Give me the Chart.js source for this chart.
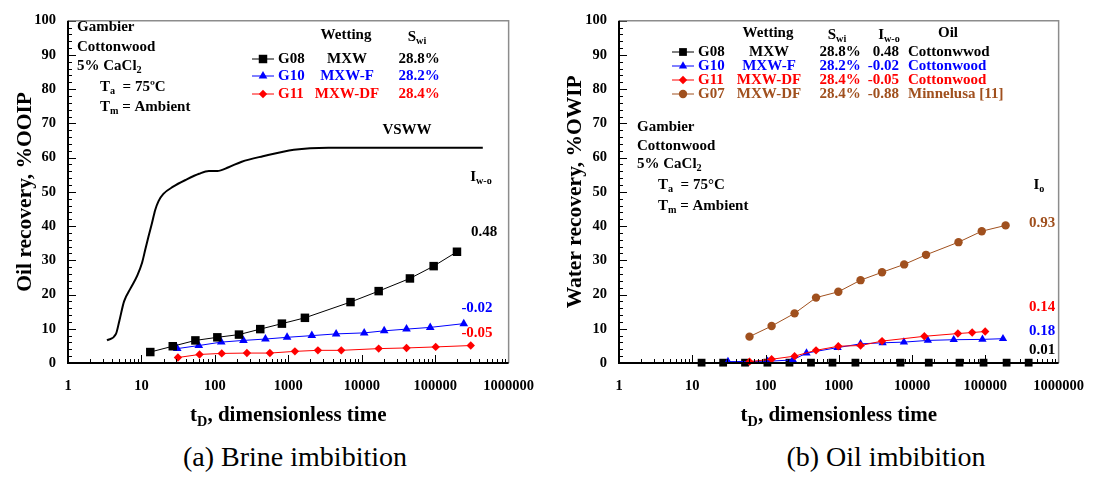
<!DOCTYPE html>
<html>
<head>
<meta charset="utf-8">
<script src="https://cdn.jsdelivr.net/npm/chart.js@4.4.0/dist/chart.umd.min.js"></script>
<style>
  body { margin: 0; background: #fff; width: 1099px; height: 481px; position: relative; overflow: hidden; font-family: 'Liberation Serif', 'Times New Roman', serif; }
  canvas { position: absolute; top: 0; }
  #brine { left: 0; }
  #oil { left: 550px; }
  .cap { position: absolute; top: 441px; font-size: 28px; line-height: 32px; white-space: nowrap; transform: translateX(-50%); }
</style>
</head>
<body>
<canvas id="brine" width="549" height="440"></canvas>
<canvas id="oil" width="549" height="440"></canvas>
<div class="cap" style="left:295px">(a) Brine imbibition</div>
<div class="cap" style="left:886px">(b) Oil imbibition</div>
<script>
// (a) brine imbibition - dimensionless time / oil recovery %OOIP
const vswwT = [3.4, 4.5, 5.0, 5.8, 7.1, 8.8, 10.2, 11.3, 12.5, 13.9, 15.4, 17.1, 19.9, 27, 41, 61, 83, 108, 154, 232, 450, 1190, 3500, 445000];
const vswwRec = [6.6, 8.5, 12.3, 18, 21.8, 25.6, 29.3, 33.2, 37, 40.8, 44.7, 47.3, 49.4, 51.5, 53.6, 55.3, 56.1, 56.1, 57.2, 58.8, 60.4, 62.3, 62.9, 62.9];
const g08T = [13.2, 26.7, 54.3, 108, 213, 415, 818, 1683, 7030, 17000, 45300, 95300, 198000];
const g08Rec = [3.2, 4.9, 6.6, 7.5, 8.3, 9.9, 11.5, 13.2, 17.8, 21.0, 24.7, 28.3, 32.5];
const g10T = [30.7, 60.4, 122, 245, 488, 962, 2090, 4480, 10800, 20200, 40700, 85600, 245000];
const g10Rec = [4.2, 5.1, 6.1, 6.6, 7.0, 7.5, 8.0, 8.5, 8.8, 9.4, 9.9, 10.4, 11.5];
const g11T = [31.4, 61.8, 124, 273, 561, 1230, 2530, 5260, 17000, 40700, 101600, 305000];
const g11Rec = [1.6, 2.5, 2.8, 2.9, 2.9, 3.4, 3.7, 3.7, 4.2, 4.4, 4.7, 5.1];

// (b) oil imbibition - dimensionless time / water recovery %OWIP
const g08OilT = [13.4, 26.4, 52.5, 106, 212, 417, 819, 1685, 6950, 16900, 44400, 94400, 195000, 390000];
const g08OilRec = [0.1, 0.1, 0.1, 0.1, 0.1, 0.1, 0.1, 0.1, 0.1, 0.1, 0.1, 0.1, 0.1, 0.1];
const g10OilT = [30.7, 107, 236, 362, 962, 1980, 3960, 7730, 16400, 37000, 91200, 174000];
const g10OilRec = [0.4, 0.5, 0.9, 2.9, 4.5, 5.6, 5.9, 6.1, 6.6, 6.8, 6.9, 7.1];
const g11OilT = [60.4, 121, 249, 489, 985, 1980, 3890, 14700, 42200, 66100, 99500];
const g11OilRec = [0.4, 1.1, 2.0, 3.7, 4.9, 5.1, 6.4, 7.8, 8.6, 8.9, 9.2];
const g07OilT = [60.4, 121, 249, 489, 985, 1980, 3890, 7800, 15500, 43000, 89300, 189000];
const g07OilRec = [7.7, 10.8, 14.5, 19.1, 20.8, 24.2, 26.5, 28.8, 31.6, 35.3, 38.5, 40.2];

// legend tables
const brineIds = ['G08', 'G10', 'G11'];
const brineWetting = ['MXW', 'MXW-F', 'MXW-DF'];
const brineSwi = ['28.8%', '28.2%', '28.4%'];
const brineIwo = ['0.48', '-0.02', '-0.05'];
const oilIds = ['G08', 'G10', 'G11', 'G07'];
const oilWetting = ['MXW', 'MXW-F', 'MXW-DF', 'MXW-DF'];
const oilSwi = ['28.8%', '28.2%', '28.4%', '28.4%'];
const oilIwo = ['0.48', '-0.02', '-0.05', '-0.88'];
const oilNames = ['Cottonwwod', 'Cottonwood', 'Cottonwood', 'Minnelusa [11]'];
const oilIo = ['0.01', '0.18', '0.14', '0.93'];

const colors = { G08: '#000000', G10: '#0000ff', G11: '#ff0000', G07: '#a0501e' };
const SERIF = "'Liberation Serif', 'Times New Roman', serif";
const font = (size, bold = true) => (bold ? 'bold ' : '') + size + 'px ' + SERIF;
const TXT = 15;

// text made of parts, a part with a second item is a subscript
function rich(ctx, parts, x, y, size, color, align = 'left') {
  ctx.save();
  ctx.fillStyle = color;
  ctx.textBaseline = 'middle';
  ctx.textAlign = 'left';
  const widths = parts.map(p => { ctx.font = font(p[1] ? size * 0.68 : size); return ctx.measureText(p[0]).width; });
  const total = widths.reduce((a, b) => a + b, 0);
  let cx = align === 'center' ? x - total / 2 : align === 'right' ? x - total : x;
  parts.forEach((p, i) => {
    ctx.font = font(p[1] ? size * 0.68 : size);
    ctx.fillText(p[0], cx, p[1] ? y + size * 0.3 : y);
    cx += widths[i];
  });
  ctx.restore();
}

function legendSample(ctx, chart, id, x1, x2, y) {
  const ds = chart.data.datasets.find(d => d.label === id);
  ctx.save();
  ctx.strokeStyle = ds.borderColor;
  ctx.fillStyle = ds.backgroundColor;
  ctx.lineWidth = 1;
  ctx.beginPath(); ctx.moveTo(x1, y); ctx.lineTo(x2, y); ctx.stroke();
  Chart.helpers.drawPoint(ctx, { pointStyle: ds.pointStyle, radius: ds.pointRadius, rotation: 0, borderWidth: 0 }, (x1 + x2) / 2, y);
  ctx.restore();
}

function makeFrame(yTitle, drawExtras) {
  return {
    id: 'frame',
    afterDraw(chart) {
      const { ctx, chartArea: a, scales: { x, y } } = chart;
      ctx.save();
      ctx.strokeStyle = '#000';
      ctx.lineWidth = 1;
      ctx.beginPath();
      for (let d = 0; d < 6; d++) {
        for (let k = 1; k < 10; k++) {
          const px = Math.round(x.getPixelForValue(k * Math.pow(10, d))) + 0.5;
          ctx.moveTo(px, a.bottom); ctx.lineTo(px, a.bottom - (k === 1 ? 8 : 4));
        }
      }
      for (let v = 0; v <= 100; v += 2) {
        const py = Math.round(y.getPixelForValue(v)) + 0.5;
        ctx.moveTo(a.left, py); ctx.lineTo(a.left + (v % 10 === 0 ? 8 : 4), py);
      }
      ctx.stroke();
      ctx.strokeStyle = '#8c8c8c';
      ctx.lineWidth = 1.5;
      ctx.beginPath(); ctx.moveTo(a.left, a.top); ctx.lineTo(a.right, a.top); ctx.lineTo(a.right, a.bottom); ctx.stroke();
      ctx.strokeStyle = '#000';
      ctx.lineWidth = 2;
      ctx.beginPath(); ctx.moveTo(a.left, a.top); ctx.lineTo(a.left, a.bottom); ctx.lineTo(a.right, a.bottom); ctx.stroke();

      // axis titles
      rich(ctx, [['t'], ['D', 1], [', dimensionless time']], (a.left + a.right) / 2, 416, 21, '#000', 'center');
      ctx.translate(25, (a.top + a.bottom) / 2);
      ctx.rotate(-Math.PI / 2);
      ctx.font = font(21.5);
      ctx.fillStyle = '#000';
      ctx.textAlign = 'center';
      ctx.textBaseline = 'middle';
      ctx.fillText(yTitle, 0, 0);
      ctx.setTransform(1, 0, 0, 1, 0, 0);
      drawExtras(ctx, chart);
      ctx.restore();
    }
  };
}

function series(label, xs, ys, style, r) {
  return {
    label,
    data: xs.map((t, i) => ({ x: t, y: ys[i] })),
    borderColor: colors[label], backgroundColor: colors[label],
    borderWidth: 1, pointStyle: style, pointRadius: r, pointHoverRadius: r, pointBorderWidth: 0,
    showLine: true, clip: false
  };
}

function options(yWidth, padRight) {
  const tickFont = { family: SERIF, size: 14.5, weight: 'bold' };
  return {
    responsive: false, animation: false, devicePixelRatio: 1,
    layout: { autoPadding: false, padding: { top: 12, right: padRight, left: 0, bottom: 0 } },
    plugins: { legend: { display: false }, tooltip: { enabled: false } },
    scales: {
      x: {
        type: 'logarithmic', min: 1, max: 1000000,
        grid: { display: false, drawTicks: false }, border: { display: false },
        ticks: {
          autoSkip: false, maxRotation: 0, minRotation: 0, padding: 15, color: '#000', font: tickFont,
          callback: v => Math.abs(Math.log10(v) - Math.round(Math.log10(v))) < 1e-9 ? String(Math.round(v)) : ''
        },
        afterFit: s => { s.height = 77; }
      },
      y: {
        min: 0, max: 100,
        grid: { display: false, drawTicks: false }, border: { display: false },
        ticks: { stepSize: 10, padding: 12, color: '#000', font: tickFont },
        afterFit: s => { s.width = yWidth; }
      }
    }
  };
}

const brineExtras = (ctx, chart) => {
  const k = '#000';
  rich(ctx, [['Gambier']], 77, 27, TXT, k);
  rich(ctx, [['Cottonwood']], 77, 47, TXT, k);
  rich(ctx, [['5% CaCl'], ['2', 1]], 77, 66, TXT, k);
  rich(ctx, [['T'], ['a', 1], ['  = 75ºC']], 100, 87, TXT, k);
  rich(ctx, [['T'], ['m', 1], [' = Ambient']], 100, 107, TXT, k);
  rich(ctx, [['Wetting']], 346, 35, TXT, k, 'center');
  rich(ctx, [['S'], ['wi', 1]], 417, 37, TXT, k, 'center');
  const rowsY = [59, 76, 94];
  brineIds.forEach((id, i) => {
    const c = colors[id];
    legendSample(ctx, chart, id, 252, 274, rowsY[i]);
    rich(ctx, [[id]], 278, rowsY[i], TXT, c);
    rich(ctx, [[brineWetting[i]]], 347, rowsY[i], TXT, c, 'center');
    rich(ctx, [[brineSwi[i]]], 419, rowsY[i], TXT, c, 'center');
  });
  rich(ctx, [['VSWW']], 407, 130, TXT, k, 'center');
  rich(ctx, [['I'], ['w-o', 1]], 481, 177, TXT, k, 'center');
  const labelY = [232, 308, 333];
  const labelX = [484, 477, 477];
  brineIds.forEach((id, i) => rich(ctx, [[brineIwo[i]]], labelX[i], labelY[i], TXT, colors[id], 'center'));
};

const oilExtras = (ctx, chart) => {
  const k = '#000';
  rich(ctx, [['Wetting']], 218, 33, TXT, k, 'center');
  rich(ctx, [['S'], ['wi', 1]], 287, 35, TXT, k, 'center');
  rich(ctx, [['I'], ['w-o', 1]], 339, 35, TXT, k, 'center');
  rich(ctx, [['Oil']], 398, 33, TXT, k, 'center');
  const rowsY = [52, 66, 80, 94];
  oilIds.forEach((id, i) => {
    const c = colors[id];
    legendSample(ctx, chart, id, 122, 144, rowsY[i]);
    rich(ctx, [[id]], 148, rowsY[i], TXT, c);
    rich(ctx, [[oilWetting[i]]], 219, rowsY[i], TXT, c, 'center');
    rich(ctx, [[oilSwi[i]]], 290, rowsY[i], TXT, c, 'center');
    rich(ctx, [[oilIwo[i]]], 349, rowsY[i], TXT, c, 'right');
    rich(ctx, [[oilNames[i]]], 358, rowsY[i], TXT, c);
  });
  rich(ctx, [['Gambier']], 87, 127, TXT, k);
  rich(ctx, [['Cottonwood']], 87, 146, TXT, k);
  rich(ctx, [['5% CaCl'], ['2', 1]], 87, 164, TXT, k);
  rich(ctx, [['T'], ['a', 1], ['  = 75°C']], 108, 185, TXT, k);
  rich(ctx, [['T'], ['m', 1], [' = Ambient']], 108, 206, TXT, k);
  rich(ctx, [['I'], ['o', 1]], 489, 185, TXT, k, 'center');
  const labelY = [350, 331, 307, 223];
  oilIds.forEach((id, i) => rich(ctx, [[oilIo[i]]], 492, labelY[i], TXT, colors[id], 'center'));
};

const vsww = {
  label: 'VSWW',
  data: vswwT.map((t, i) => ({ x: t, y: vswwRec[i] })),
  borderColor: '#000', borderWidth: 2, pointRadius: 0, showLine: true,
  cubicInterpolationMode: 'monotone'
};

new Chart(document.getElementById('brine'), {
  type: 'scatter',
  data: {
    datasets: [
      vsww,
      series('G08', g08T, g08Rec, 'rect', 6),
      series('G10', g10T, g10Rec, 'triangle', 5),
      series('G11', g11T, g11Rec, 'rectRot', 4.2)
    ]
  },
  options: options(68, 32),
  plugins: [makeFrame('Oil recovery, %OOIP', brineExtras)]
});

new Chart(document.getElementById('oil'), {
  type: 'scatter',
  data: {
    datasets: [
      series('G07', g07OilT, g07OilRec, 'circle', 4.2),
      series('G11', g11OilT, g11OilRec, 'rectRot', 4.2),
      series('G10', g10OilT, g10OilRec, 'triangle', 4.8),
      series('G08', g08OilT, g08OilRec, 'rect', 5.5)
    ]
  },
  options: options(69, 30),
  plugins: [makeFrame('Water recovery, %OWIP', oilExtras)]
});
</script>
</body>
</html>
